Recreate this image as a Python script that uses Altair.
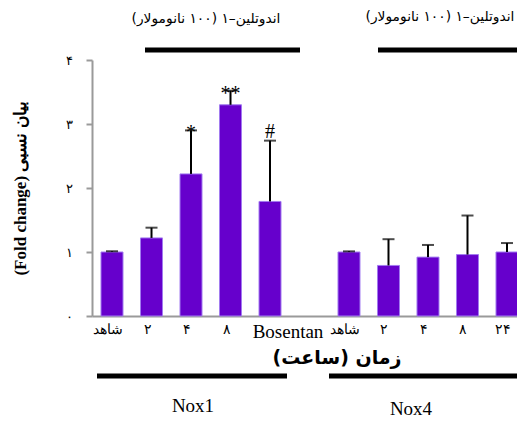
import json
import altair as alt
import pandas as pd

# ---- data ----
slot_keys = ["n1_c", "n1_2", "n1_4", "n1_8", "n1_bos", "gap", "n4_c", "n4_2", "n4_4", "n4_8", "n4_24"]
slot_labels = ["شاهد", "۲", "۴", "۸", "Bosentan", "", "شاهد", "۲", "۴", "۸", "۲۴"]
bar_keys = ["n1_c", "n1_2", "n1_4", "n1_8", "n1_bos", "n4_c", "n4_2", "n4_4", "n4_8", "n4_24"]
means = [1.0, 1.22, 2.22, 3.30, 1.79, 1.0, 0.79, 0.92, 0.96, 1.0]
errors = [0.01, 0.16, 0.68, 0.22, 0.95, 0.01, 0.41, 0.19, 0.61, 0.14]
signif = ["", "", "*", "**", "#", "", "", "", "", ""]
y_tick_labels = ["۰", "۱", "۲", "۳", "۴"]

y_title = "(Fold change) بیان نسبی"
x_title = "\u200fزمان (ساعت)\u200f"
top_label = "\u200fاندوتلین–۱ (۱۰۰ نانومولار)\u200f"
group_labels = ["Nox1", "Nox4"]

df = pd.DataFrame({
    "key": bar_keys,
    "mean": means,
    "upper": [m + e for m, e in zip(means, errors)],
    "sig": signif,
})

label_map = json.dumps(dict(zip(slot_keys, slot_labels)), ensure_ascii=False)
y_label_arr = json.dumps(y_tick_labels, ensure_ascii=False)

SERIF = "Liberation Serif"

x_enc = alt.X(
    "key:N",
    sort=slot_keys,
    scale=alt.Scale(domain=slot_keys, range=[0, 435], paddingInner=0.443, paddingOuter=0.228),
    axis=alt.Axis(
        title=None,
        labelExpr=f"{label_map}[datum.value]",
        labelAngle=0,
        ticks=False,
        domainColor="#9a9a9a",
        domainWidth=2,
        labelFont=SERIF,
        labelFontSize={"condition": {"test": "datum.value == 'n1_bos'", "value": 19}, "value": 14},
        labelOffset={"condition": {"test": "datum.value == 'n1_bos'", "value": 18}, "value": -4},
        labelColor="#000000",
        labelPadding=6,
    ),
)
y_scale = alt.Scale(domain=[0, 4], nice=False)
y_enc = alt.Y(
    "mean:Q",
    scale=y_scale,
    axis=alt.Axis(
        title=y_title,
        values=[0, 1, 2, 3, 4],
        labelExpr=f"{y_label_arr}[datum.value]",
        grid=False,
        domainColor="#9a9a9a",
        domainWidth=2,
        tickColor="#9a9a9a",
        tickWidth=2,
        tickSize=6,
        labelPadding=14,
        labelFont=SERIF,
        labelFontSize=13,
        labelColor="#000000",
        titleFont=SERIF,
        titleFontSize=17,
        titleFontWeight="bold",
        titleColor="#000000",
        titlePadding=36,
    ),
)

base = alt.Chart(df)

bars = base.mark_bar(color="#6600CC", stroke="#A27BF0", strokeWidth=1).encode(x=x_enc, y=y_enc)

err = base.mark_rule(color="#000000", strokeWidth=2).encode(
    x=alt.X("key:N", sort=slot_keys),
    y=alt.Y("mean:Q", scale=y_scale),
    y2="upper:Q",
)
caps = base.mark_tick(color="#000000", size=12, thickness=2).encode(
    x=alt.X("key:N", sort=slot_keys),
    y=alt.Y("upper:Q", scale=y_scale),
)
star_text = base.transform_filter("datum.sig != '#'").mark_text(
    font=SERIF, fontSize=20, baseline="alphabetic", dy=9, color="#000000"
).encode(
    x=alt.X("key:N", sort=slot_keys),
    y=alt.Y("upper:Q", scale=y_scale),
    text="sig:N",
)
hash_text = base.transform_filter("datum.sig == '#'").mark_text(
    font=SERIF, fontSize=20, baseline="alphabetic", dy=-3, color="#000000"
).encode(
    x=alt.X("key:N", sort=slot_keys),
    y=alt.Y("upper:Q", scale=y_scale),
    text="sig:N",
)

one = pd.DataFrame({"a": [0]})

def hline(x1, x2, yv):
    return alt.Chart(one).mark_rule(color="#000000", strokeWidth=5).encode(
        x=alt.value(x1), x2=alt.value(x2), y=alt.value(yv)
    )

def label(txt, xv, yv, size, weight="normal", font=SERIF):
    return alt.Chart(one).mark_text(
        text=txt, font=font, fontSize=size, fontWeight=weight, color="#000000"
    ).encode(x=alt.value(xv), y=alt.value(yv))

deco = [
    hline(53, 208, -10),
    hline(286, 426, -10),
    hline(5, 195, 316),
    hline(237, 426, 316),
    label(top_label, 114, -41, 13.8, font="DejaVu Sans"),
    label(top_label, 348, -43, 13.8, font="DejaVu Sans"),
    label(x_title, 245, 298, 19, weight="bold", font="DejaVu Sans"),
    label(group_labels[0], 101, 346, 19),
    label(group_labels[1], 319, 349, 19),
]

chart = alt.layer(bars, err, caps, star_text, hash_text, *deco).properties(
    width=425,
    height=256,
    autosize=alt.AutoSizeParams(type="none"),
    padding={"left": 84, "top": 52, "right": 0, "bottom": 103},
).configure_view(stroke=None)

chart.save("out.html", embed_options={"renderer": "svg", "actions": False})
